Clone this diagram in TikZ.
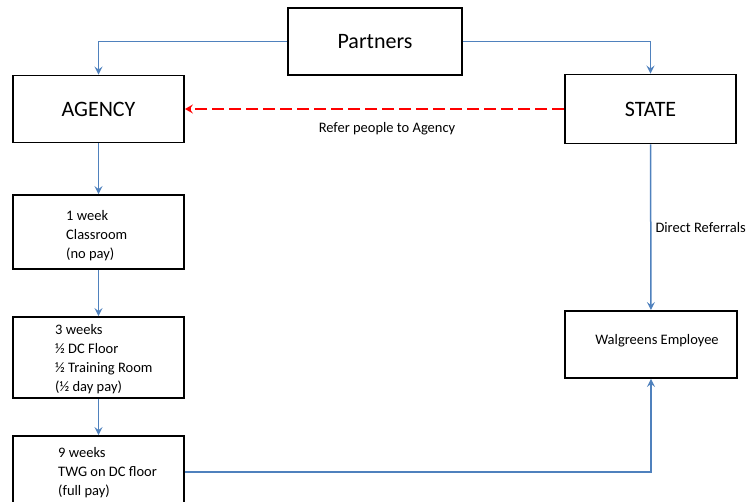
\documentclass[tikz,border=0pt]{standalone}
\usepackage{fontspec}
\setmainfont{Carlito}
\usetikzlibrary{arrows.meta}
\definecolor{linkblue}{RGB}{79,129,189}
\begin{document}
\begin{tikzpicture}[x=1pt, y=-1pt,
    box/.style={draw, line width=1.9pt, inner sep=0pt, minimum width=171pt},
    big/.style={font=\fontsize{22}{26}\selectfont},
    small/.style={font=\fontsize{14.5}{19}\selectfont, align=left, inner sep=0pt},
    flow/.style={draw=linkblue, line width=1.5pt, -{Stealth[length=8pt, width=8pt, inset=3pt]}},
    refer/.style={draw=red, line width=2pt, dash pattern=on 12pt off 5pt, -{Stealth[length=8pt, width=9pt, inset=3pt]}}]
      \useasboundingbox (0,0) rectangle (754,502);
      \node[box, big, minimum width=174pt, minimum height=67pt] (partners) at (375,41.5) {Partners};
      \node[box, big, minimum height=67pt] (agency) at (98.5,109) {AGENCY};
      \node[box, big, minimum height=69pt] (state) at (650.5,109) {STATE};
      \node[box, minimum height=74pt] (week1) at (98.5,232) {};
      \node[box, minimum height=81pt] (week3) at (98.5,357.5) {};
      \node[box, minimum height=72pt] (week9) at (98.5,472) {};
      \node[box, minimum width=172pt, minimum height=67pt] (walgreens) at (651,344.5) {};
      \node[small, anchor=north west] (week1txt) at (66,210) {1 week\\Classroom\\(no pay)};
      \node[small, anchor=north west] (week3txt) at (55,324) {3 weeks\\½ DC Floor\\½ Training Room\\(½ day pay)};
      \node[small, anchor=north west] (week9txt) at (58,447) {9 weeks\\TWG on DC floor\\(full pay)};
      \node[small] (walgreenstxt) at (657,341) {Walgreens Employee};
      \node[small] (refertxt) at (387,129) {Refer people to Agency};
      \begin{scope}[flow]
        \draw (partners.west) -| (agency.north);
        \draw (partners.east) -| (state.north);
        \draw (agency) to (week1);
        \draw (week1) to (week3);
        \draw (week3) to (week9);
        \draw (state) to node[midway, right=4pt, small] (directtxt) {Direct Referrals} (walgreens);
        \draw (week9.east) -| (walgreens.south);
      \end{scope}
      \draw[refer] (state.west) -- (agency.east);
    \end{tikzpicture}
\end{document}
